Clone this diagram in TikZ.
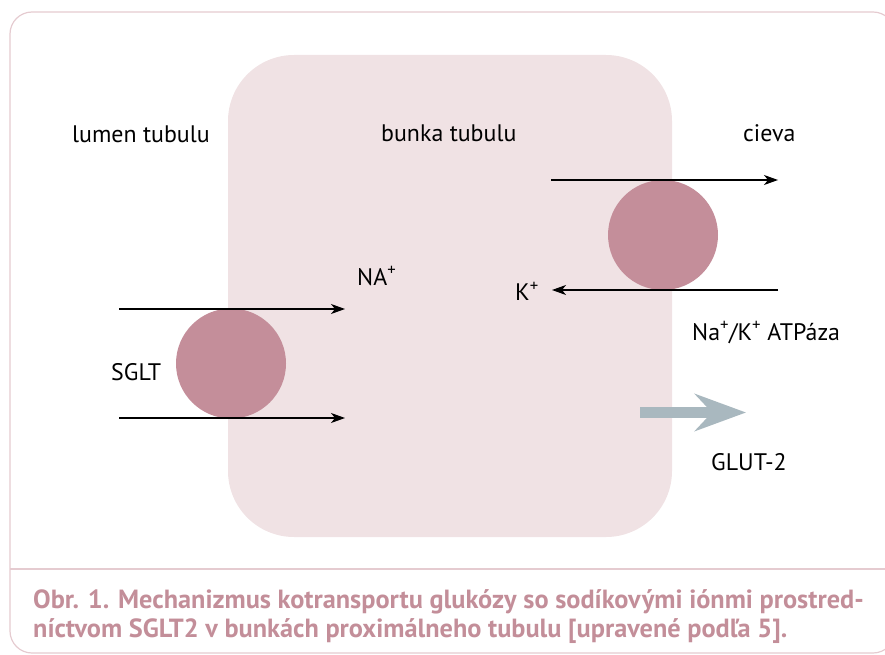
\documentclass[tikz,border=0pt]{standalone}
\usepackage{fontspec}
\setmainfont{PT Sans}
\usetikzlibrary{arrows.meta}
\definecolor{framecol}{HTML}{E5CBD0}
\definecolor{cellfill}{HTML}{F0E2E4}
\definecolor{pumpfill}{HTML}{C48E9A}
\definecolor{capcol}{HTML}{C38E99}
\definecolor{glutcol}{HTML}{A9B8BF}
\tikzset{
  ion/.style={line width=1.3pt,-{Stealth[length=14pt,width=10pt,inset=4pt]}},
  lbl/.style={anchor=base west,inner sep=0pt,font=\fontsize{23.9}{28}\selectfont},
  pump/.style={circle,fill=pumpfill,minimum size=110pt,inner sep=0pt},
  captxt/.style={anchor=base west,inner sep=0pt,text=capcol,font=\fontsize{26.3}{29}\selectfont\bfseries}
}
\begin{document}
\begin{tikzpicture}[x=1pt,y=-1pt]
\useasboundingbox (0,0) rectangle (885,655);
\clip (0,0) rectangle (885,655);
% frame and cell
\draw[framecol,line width=1.2pt,rounded corners=22pt] (10,12) rectangle (895,653);
\draw[framecol,line width=1.2pt] (10,569) -- (885,569);
\fill[cellfill,rounded corners=66pt] (228,55) rectangle (672,537);
% transporters
\node[name=sglt,pump] at (231,363.5){};
\node[name=atpase,pump] at (663,235){};
% labels
\node[name=lumen,lbl] at (72,142.7){lumen tubulu};
\node[name=bunka,lbl] at (381,141.7){bunka tubulu};
\node[name=cieva,lbl] at (743,142){cieva};
\node[name=na,lbl] at (357,285){NA\textsuperscript{+}};
\node[name=k,lbl] at (515,300.7){K\textsuperscript{+}};
\node[name=natk,lbl] at (692,340){Na\textsuperscript{+}/K\textsuperscript{+} ATPáza};
\node[name=sgltl,lbl] at (111,380.7){SGLT};
\node[name=glut,lbl] at (711,470.7){GLUT-2};
% ion flows
\coordinate (s1) at (119,309);
\coordinate (e1) at (345,309);
\coordinate (s2) at (119,418);
\coordinate (e2) at (345,418);
\coordinate (s3) at (551,180);
\coordinate (e3) at (778,180);
\coordinate (s4) at (778,290);
\coordinate (e4) at (552,290);
\draw[ion] (s1)--(e1);
\draw[ion] (s2)--(e2);
\draw[ion] (s3)--(e3);
\draw[ion] (s4)--(e4);
\coordinate (g1) at (640,412.5);
\coordinate (g2) at (746,412.5);
\draw[glutcol,line width=11pt,-{Stealth[length=51pt,width=37pt,inset=17pt]}] (g1)--(g2);
% caption
\node[name=cap1,captxt] at (33,608){Obr. 1. Mechanizmus kotransportu glukózy so sodíkovými iónmi prostred-};
\node[name=cap2,captxt] at (33,637){níctvom SGLT2 v bunkách proximálneho tubulu [upravené podľa 5].};
\end{tikzpicture}
\end{document}
